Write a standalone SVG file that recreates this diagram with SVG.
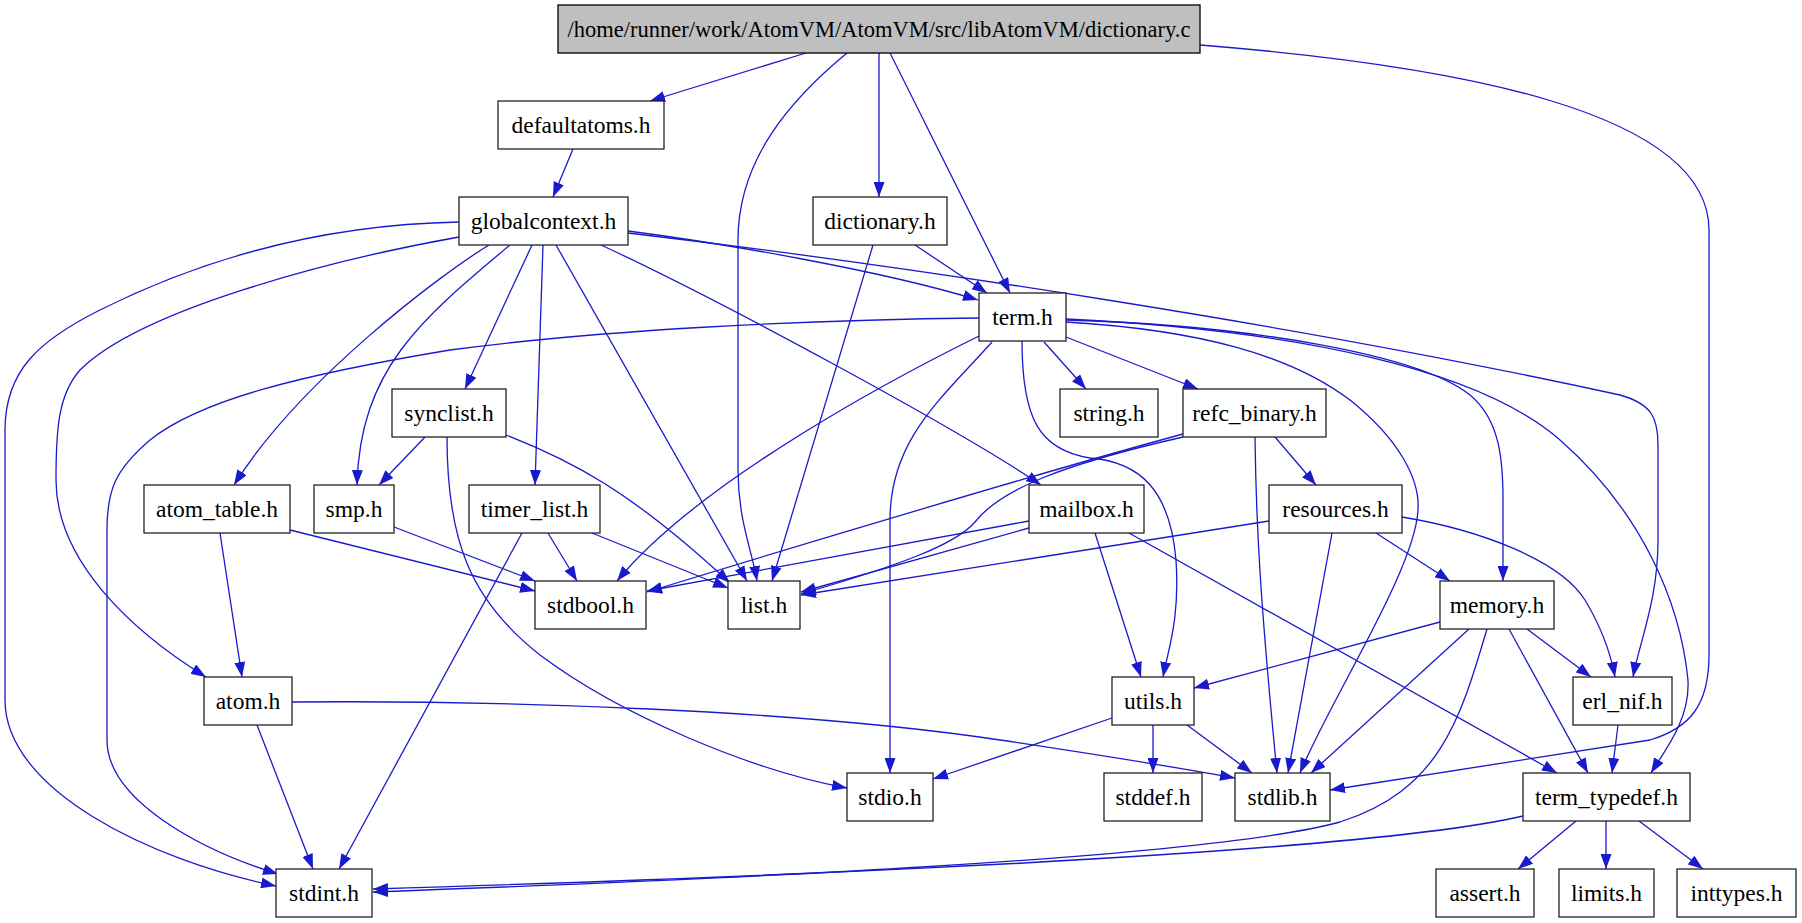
<svg xmlns="http://www.w3.org/2000/svg" width="1802" height="923" viewBox="0 0 1802 923">
<style>
.n rect{fill:#fff;stroke:#222;stroke-width:1.3}
#n_main rect{fill:#bfbfbf;stroke:#000}
.n text{font-family:"Liberation Serif","Times New Roman",serif;font-size:23.5px;text-anchor:middle;fill:#000}
#n_main text{font-size:22.5px}
.e path{fill:none;stroke:#1a1acd;stroke-width:1.3;marker-end:url(#a)}
</style>
<defs>
<marker id="a" markerUnits="userSpaceOnUse" markerWidth="15" markerHeight="11" viewBox="0 0 15 11" refX="15" refY="5.5" orient="auto"><path d="M0,0 L15,5.5 L0,11 z" fill="#1a1acd"/></marker>
</defs>
<rect width="1802" height="923" fill="#fff"/>
<g id="edges" class="e">
<path d="M806,53 L650,101"/>
<path d="M847,53 C790,100 738,160 738,240 L738,470 C738,520 752,550 757,581"/>
<path d="M879,53 L879,197"/>
<path d="M890,53 L1010,293"/>
<path d="M1200,45 C1450,65 1709,110 1709,230 L1709,655 C1709,705 1690,728 1650,740 L1330,790"/>
<path d="M573,149 L553,197"/>
<path d="M915,245 L987,293"/>
<path d="M873,245 L772,581"/>
<path d="M628,231 C720,243 880,270 978,300"/>
<path d="M628,233 C900,265 1300,325 1620,395 C1652,404 1658,418 1658,445 L1658,540 C1658,600 1640,640 1633,677"/>
<path d="M459,222 C300,225 180,270 100,310 C40,340 5,370 5,430 L5,700 C5,790 150,860 276,886"/>
<path d="M459,237 C330,260 140,310 80,370 C58,395 56,430 56,480 C56,560 130,630 206,677"/>
<path d="M489,245 C440,275 300,380 234,485"/>
<path d="M510,245 C420,320 360,370 357,485"/>
<path d="M532,245 L465,389"/>
<path d="M543,245 L535,485"/>
<path d="M556,245 L747,581"/>
<path d="M601,245 C720,300 960,430 1041,485"/>
<path d="M979,318 C800,320 600,330 450,350 C300,375 200,400 150,440 C115,470 107,490 107,530 L107,740 C107,800 200,850 278,874"/>
<path d="M979,336 C900,375 700,480 617,581"/>
<path d="M992,342 C940,400 890,440 890,520 L890,773"/>
<path d="M1044,342 L1086,389"/>
<path d="M1066,337 L1198,389"/>
<path d="M1022,341 C1022,420 1040,450 1090,458 C1140,462 1170,490 1176,560 C1180,620 1168,650 1163,677"/>
<path d="M1066,322 C1200,330 1290,355 1350,400 C1400,440 1420,480 1418,510 C1415,570 1330,700 1300,773"/>
<path d="M1066,320 C1250,325 1420,355 1470,395 C1500,420 1503,460 1503,500 L1503,581"/>
<path d="M1066,319 C1300,330 1480,370 1560,440 C1640,510 1680,600 1688,680 C1690,720 1665,750 1651,773"/>
<path d="M1183,434 C1050,470 800,545 647,592"/>
<path d="M1183,437 C1060,465 1000,490 975,522 C955,545 900,565 801,594"/>
<path d="M1275,437 L1316,485"/>
<path d="M1255,437 C1256,520 1260,600 1277,773"/>
<path d="M1332,533 L1288,773"/>
<path d="M1376,533 L1450,581"/>
<path d="M1402,517 C1480,530 1560,560 1585,600 C1600,625 1610,650 1615,677"/>
<path d="M1269,521 L801,595"/>
<path d="M1095,533 L1141,677"/>
<path d="M1129,533 L1557,773"/>
<path d="M1029,521 L647,591"/>
<path d="M1029,528 L801,592"/>
<path d="M1440,622 L1194,688"/>
<path d="M1469,629 L1311,773"/>
<path d="M1487,629 C1460,720 1440,790 1340,822 C1200,860 700,880 373,892"/>
<path d="M1509,629 L1588,773"/>
<path d="M1527,629 L1591,677"/>
<path d="M1112,718 L933,779"/>
<path d="M1153,725 L1153,773"/>
<path d="M1187,725 L1252,773"/>
<path d="M1618,725 L1612,773"/>
<path d="M1523,816 C1400,845 1000,870 373,889"/>
<path d="M1576,821 L1518,869"/>
<path d="M1606,821 L1606,869"/>
<path d="M1639,821 L1703,869"/>
<path d="M257,725 L313,869"/>
<path d="M292,702 C500,700 800,710 1000,740 C1100,755 1180,768 1235,778"/>
<path d="M220,533 L242,677"/>
<path d="M290,530 L535,591"/>
<path d="M394,527 L535,581"/>
<path d="M425,437 L379,485"/>
<path d="M506,435 C570,460 630,490 730,583"/>
<path d="M447,437 C447,540 470,600 540,655 C620,715 750,770 847,788"/>
<path d="M548,533 L577,581"/>
<path d="M592,533 L728,588"/>
<path d="M522,533 L339,869"/>
</g>
<g id="n_main" class="n"><rect x="558" y="5" width="642" height="48"/><text x="879" y="37">/home/runner/work/AtomVM/AtomVM/src/libAtomVM/dictionary.c</text></g>
<g id="n_defaultatoms" class="n"><rect x="498" y="101" width="166" height="48"/><text x="581" y="133">defaultatoms.h</text></g>
<g id="n_globalcontext" class="n"><rect x="459" y="197" width="169" height="48"/><text x="543.5" y="229">globalcontext.h</text></g>
<g id="n_dictionary" class="n"><rect x="813" y="197" width="134" height="48"/><text x="880" y="229">dictionary.h</text></g>
<g id="n_term" class="n"><rect x="979" y="293" width="87" height="48"/><text x="1022.5" y="325">term.h</text></g>
<g id="n_synclist" class="n"><rect x="392" y="389" width="114" height="48"/><text x="449" y="421">synclist.h</text></g>
<g id="n_string" class="n"><rect x="1060" y="389" width="98" height="48"/><text x="1109" y="421">string.h</text></g>
<g id="n_refc_binary" class="n"><rect x="1183" y="389" width="143" height="48"/><text x="1254.5" y="421">refc_binary.h</text></g>
<g id="n_atom_table" class="n"><rect x="144" y="485" width="146" height="48"/><text x="217" y="517">atom_table.h</text></g>
<g id="n_smp" class="n"><rect x="314" y="485" width="80" height="48"/><text x="354" y="517">smp.h</text></g>
<g id="n_timer_list" class="n"><rect x="469" y="485" width="131" height="48"/><text x="534.5" y="517">timer_list.h</text></g>
<g id="n_mailbox" class="n"><rect x="1029" y="485" width="115" height="48"/><text x="1086.5" y="517">mailbox.h</text></g>
<g id="n_resources" class="n"><rect x="1269" y="485" width="133" height="48"/><text x="1335.5" y="517">resources.h</text></g>
<g id="n_stdbool" class="n"><rect x="535" y="581" width="111" height="48"/><text x="590.5" y="613">stdbool.h</text></g>
<g id="n_list" class="n"><rect x="728" y="581" width="72" height="48"/><text x="764" y="613">list.h</text></g>
<g id="n_memory" class="n"><rect x="1440" y="581" width="114" height="48"/><text x="1497" y="613">memory.h</text></g>
<g id="n_atom" class="n"><rect x="204" y="677" width="88" height="48"/><text x="248" y="709">atom.h</text></g>
<g id="n_utils" class="n"><rect x="1112" y="677" width="82" height="48"/><text x="1153" y="709">utils.h</text></g>
<g id="n_erl_nif" class="n"><rect x="1573" y="677" width="99" height="48"/><text x="1622.5" y="709">erl_nif.h</text></g>
<g id="n_stdio" class="n"><rect x="847" y="773" width="86" height="48"/><text x="890" y="805">stdio.h</text></g>
<g id="n_stddef" class="n"><rect x="1104" y="773" width="98" height="48"/><text x="1153" y="805">stddef.h</text></g>
<g id="n_stdlib" class="n"><rect x="1235" y="773" width="95" height="48"/><text x="1282.5" y="805">stdlib.h</text></g>
<g id="n_term_typedef" class="n"><rect x="1523" y="773" width="167" height="48"/><text x="1606.5" y="805">term_typedef.h</text></g>
<g id="n_stdint" class="n"><rect x="276" y="869" width="96" height="48"/><text x="324" y="901">stdint.h</text></g>
<g id="n_assert" class="n"><rect x="1436" y="869" width="98" height="48"/><text x="1485" y="901">assert.h</text></g>
<g id="n_limits" class="n"><rect x="1559" y="869" width="95" height="48"/><text x="1606.5" y="901">limits.h</text></g>
<g id="n_inttypes" class="n"><rect x="1677" y="869" width="119" height="48"/><text x="1736.5" y="901">inttypes.h</text></g>
</svg>
